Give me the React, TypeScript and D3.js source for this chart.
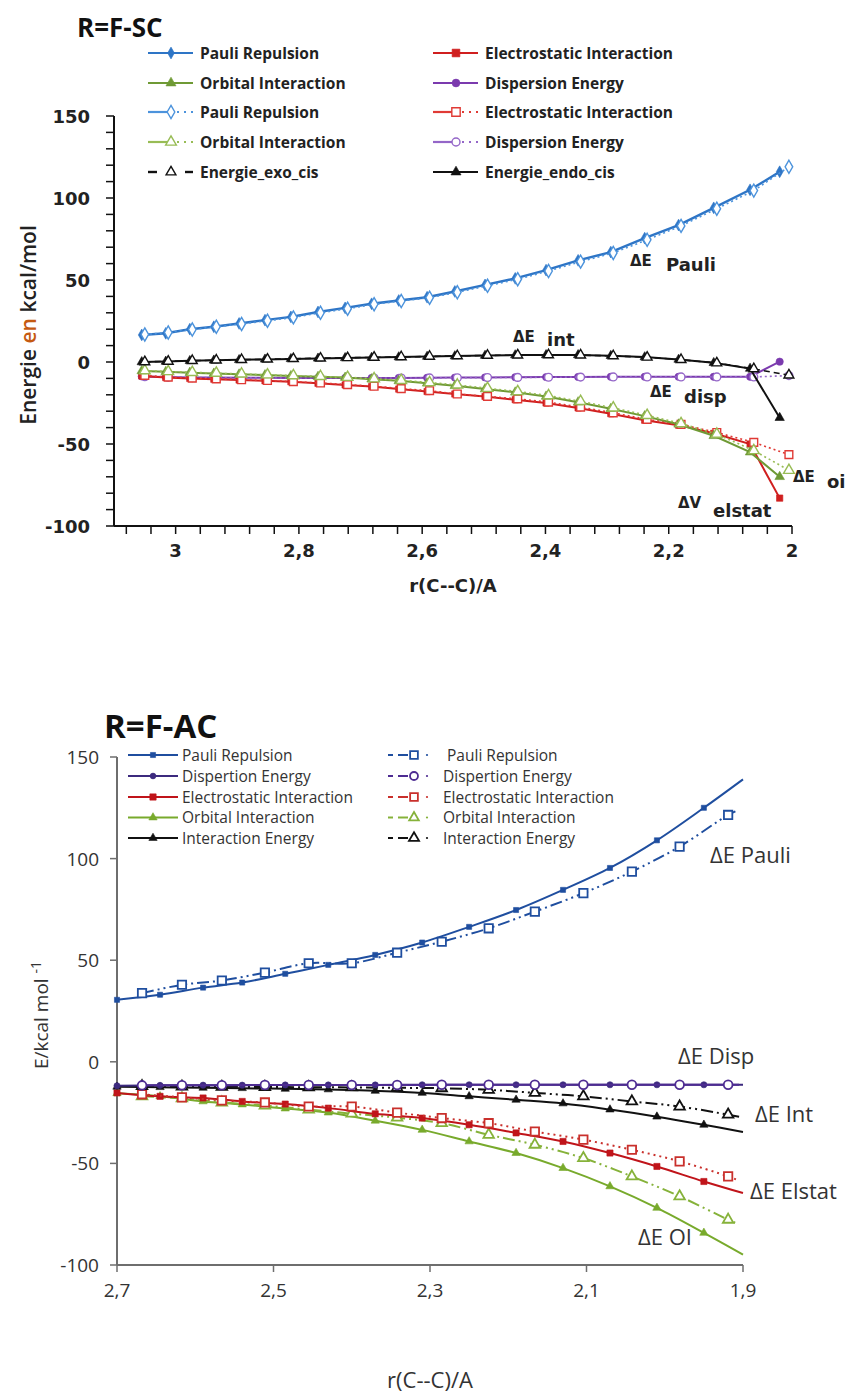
import React from "react";
import * as d3 from "d3";

// ---------------- Top chart (R=F-SC) data ----------------
const topXEndo = [3.055, 3.016, 2.977, 2.938, 2.897, 2.855, 2.813, 2.769, 2.725, 2.682, 2.638, 2.592, 2.547, 2.498, 2.449, 2.399, 2.347, 2.294, 2.239, 2.184, 2.127, 2.068, 2.02];
const topXExo = [3.05, 3.012, 2.973, 2.934, 2.893, 2.851, 2.809, 2.765, 2.721, 2.678, 2.634, 2.588, 2.543, 2.494, 2.445, 2.395, 2.343, 2.29, 2.235, 2.18, 2.122, 2.062, 2.005];
const pauliEndo = [16.5, 17.5, 20, 21.5, 23.5, 25.5, 27.5, 30.5, 33, 35.5, 37.5, 39.5, 43, 47, 51, 56, 62, 67, 75.5, 83.5, 94, 105, 116];
const pauliExo = [16.8, 18, 19.8, 21.5, 23.2, 25.2, 27.2, 30, 32.5, 35.2, 37.2, 39.2, 42.5, 46.5, 50.5, 55.5, 61.2, 66.5, 74.5, 83, 93.5, 104.5, 119];
const elstatEndo = [-8.5, -9.5, -10, -10.5, -11, -11.5, -12, -13, -14, -15, -16.5, -18, -19.5, -21, -23, -25, -28, -31.5, -35.5, -38.5, -43.5, -50, -83];
const elstatExo = [-8.2, -9.2, -9.8, -10.3, -10.8, -11.3, -12, -12.8, -13.8, -14.8, -16.2, -17.5, -19.5, -21, -22.5, -24.5, -27.5, -31, -35, -38, -43, -49, -56.5];
const orbEndo = [-5.5, -6, -6.5, -7, -7.5, -8, -8.5, -9, -9.5, -10.5, -11.5, -13, -14.5, -16.5, -18.5, -21, -24.5, -28.5, -33, -38, -45, -55, -70];
const orbExo = [-5.3, -5.8, -6.3, -6.8, -7.3, -7.8, -8.3, -8.8, -9.3, -10.2, -11.2, -12.5, -14, -16, -18, -20.5, -24, -28, -32.5, -37.5, -44, -54, -66];
const dispEndo = [-8.8, -9.2, -9.4, -9.5, -9.6, -9.6, -9.7, -9.7, -9.7, -9.7, -9.7, -9.6, -9.5, -9.4, -9.3, -9.2, -9.1, -9, -9, -9, -9, -9, 0.2];
const dispExo = [-9, -9.3, -9.5, -9.6, -9.7, -9.7, -9.8, -9.8, -9.8, -9.8, -9.8, -9.7, -9.6, -9.5, -9.4, -9.3, -9.2, -9.1, -9.1, -9.1, -9.1, -9.1, -8.3];
const energieEndo = [0, 0.3, 0.7, 1, 1.3, 1.6, 1.9, 2.2, 2.5, 2.7, 3, 3.3, 3.6, 3.9, 4.2, 4.3, 4.3, 3.8, 3, 1.5, -0.5, -4, -34];
const energieExo = [0.1, 0.4, 0.8, 1.1, 1.4, 1.7, 2, 2.3, 2.6, 2.8, 3.1, 3.4, 3.7, 4, 4.2, 4.3, 4.2, 3.7, 2.9, 1.4, -0.6, -4.2, -8];
const topXTicks = [3, 2.8, 2.6, 2.4, 2.2, 2];
const topYTicks = [150, 100, 50, 0, -50, -100];

// ---------------- Bottom chart (R=F-AC) data ----------------
const botXSolid = [2.7, 2.645, 2.59, 2.54, 2.485, 2.43, 2.37, 2.31, 2.25, 2.19, 2.13, 2.07, 2.01, 1.95, 1.9];
const botXDash = [2.668, 2.617, 2.566, 2.511, 2.455, 2.4, 2.342, 2.285, 2.225, 2.166, 2.104, 2.042, 1.981, 1.919, 1.905];
const bPauli = [30.5, 33, 36.5, 39, 43.3, 47.7, 52.6, 58.7, 66.4, 74.7, 84.6, 95.4, 109, 125, 139];
const bPauliD = [33.8, 37.9, 40, 43.9, 48.5, 48.5, 53.7, 59.1, 65.7, 73.9, 83, 93.6, 105.9, 121.5, 124];
const bDisp = [-11.8, -11.6, -11.5, -11.5, -11.4, -11.4, -11.4, -11.3, -11.3, -11.3, -11.3, -11.3, -11.3, -11.3, -11.3];
const bDispD = [-11.6, -11.5, -11.5, -11.4, -11.4, -11.4, -11.4, -11.3, -11.3, -11.3, -11.3, -11.3, -11.3, -11.3, -11.3];
const bElstat = [-15.3, -17, -17.8, -19.5, -20.8, -22.8, -25.6, -27.7, -31, -35, -39.2, -44.9, -51.5, -58.9, -64.6];
const bElstatD = [-16, -17.5, -19, -20, -22, -22, -25, -27.7, -30.2, -34.3, -38.3, -43.3, -49, -56.4, -58.5];
const bOrb = [-15.5, -17, -19.5, -21, -23, -25, -29, -33.5, -39.2, -44.9, -52.3, -61.3, -71.9, -84.2, -94.9];
const bOrbD = [-17, -18, -20, -21.5, -23.5, -25.5, -27.5, -30.2, -35.9, -40.8, -47.4, -56.4, -66.2, -77.7, -80];
const bInt = [-12.3, -12.5, -12.8, -13, -13.3, -13.6, -14.3, -15.3, -17, -18.7, -20.5, -23.5, -27, -31, -34.5];
const bIntD = [-12, -12.2, -12.3, -12.4, -12.5, -12.6, -12.8, -13, -13.8, -15.3, -17, -19.5, -22, -26, -27];
const botXTicks = [2.7, 2.5, 2.3, 2.1, 1.9];
const botYTicks = [150, 100, 50, 0, -50, -100];

const topLegendLeft = ["Pauli Repulsion", "Orbital Interaction", "Pauli Repulsion", "Orbital Interaction", "Energie_exo_cis"];
const topLegendRight = ["Electrostatic Interaction", "Dispersion Energy", "Electrostatic Interaction", "Dispersion Energy", "Energie_endo_cis"];
const botLegendLeft = ["Pauli Repulsion", "Dispertion Energy", "Electrostatic Interaction", "Orbital Interaction", "Interaction Energy"];
const botLegendRight = [" Pauli Repulsion", "Dispertion Energy", "Electrostatic Interaction", "Orbital Interaction", "Interaction Energy"];

const symMap: any = {
  diamond: d3.symbolDiamond,
  square: d3.symbolSquare,
  triangle: d3.symbolTriangle,
  circle: d3.symbolCircle,
};

const comma = (v: number) => String(v).replace(".", ",");

function Marker({ x, y, sym, size, color, open, sw = 1.4 }: any) {
  const d = d3.symbol(symMap[sym], size)() as string;
  return (
    <path
      d={d}
      transform={`translate(${x},${y})`}
      fill={open ? "#fff" : color}
      stroke={color}
      strokeWidth={open ? sw : 0.6}
    />
  );
}

// scales
const tx = d3.scaleLinear().domain([3.1, 2.0]).range([114, 792]);
const ty = d3.scaleLinear().domain([-100, 150]).range([526, 116]);
const bx = d3.scaleLinear().domain([2.7, 1.9]).range([117, 743]);
const by = d3.scaleLinear().domain([-100, 150]).range([1265, 757]);

const C = {
  tPauli: "#2E75C6",
  tPauliD: "#4C93DC",
  tEl: "#D01F1F",
  tElD: "#E03A35",
  tOrb: "#6F9A35",
  tOrbD: "#98BC55",
  tDisp: "#7B3AAE",
  tDispD: "#9466C8",
  bPauli: "#1F4E9F",
  bDisp: "#3C2A7E",
  bDispD: "#4E2C92",
  bEl: "#C0141A",
  bElD: "#C9302C",
  bOrb: "#78AA2C",
  bOrbD: "#86B23A",
};

const topSeries = [
  { xs: topXEndo, ys: dispEndo, color: C.tDisp, sym: "circle", size: 42, open: false, dash: null, w: 2 },
  { xs: topXExo, ys: dispExo, color: C.tDispD, sym: "circle", size: 48, open: true, dash: "2 3", w: 1.6 },
  { xs: topXEndo, ys: elstatEndo, color: C.tEl, sym: "square", size: 40, open: false, dash: null, w: 2 },
  { xs: topXExo, ys: elstatExo, color: C.tElD, sym: "square", size: 60, open: true, dash: "2 3", w: 1.6 },
  { xs: topXEndo, ys: orbEndo, color: C.tOrb, sym: "triangle", size: 40, open: false, dash: null, w: 2 },
  { xs: topXExo, ys: orbExo, color: C.tOrbD, sym: "triangle", size: 50, open: true, dash: "2 3", w: 1.6 },
  { xs: topXEndo, ys: energieEndo, color: "#111", sym: "triangle", size: 38, open: false, dash: null, w: 2 },
  { xs: topXExo, ys: energieExo, color: "#111", sym: "triangle", size: 42, open: true, dash: "6 4", w: 1.6 },
  { xs: topXEndo, ys: pauliEndo, color: C.tPauli, sym: "diamond", size: 40, open: false, dash: null, w: 2.4 },
  { xs: topXExo, ys: pauliExo, color: C.tPauliD, sym: "diamond", size: 50, open: true, dash: "2 3", w: 1.6 },
];

const botSeries = [
  { xs: botXSolid, ys: bPauli, color: C.bPauli, sym: "square", size: 26, open: false, dash: null },
  { xs: botXDash, ys: bPauliD, color: C.bPauli, sym: "square", size: 70, open: true, dash: "12 4 2 4 2 4" },
  { xs: botXSolid, ys: bOrb, color: C.bOrb, sym: "triangle", size: 30, open: false, dash: null },
  { xs: botXDash, ys: bOrbD, color: C.bOrbD, sym: "triangle", size: 48, open: true, dash: "12 4 2 4 2 4" },
  { xs: botXSolid, ys: bElstat, color: C.bEl, sym: "square", size: 38, open: false, dash: null },
  { xs: botXDash, ys: bElstatD, color: C.bElD, sym: "square", size: 70, open: true, dash: "2 4" },
  { xs: botXSolid, ys: bInt, color: "#111", sym: "triangle", size: 30, open: false, dash: null },
  { xs: botXDash, ys: bIntD, color: "#111", sym: "triangle", size: 48, open: true, dash: "12 4 2 4 2 4" },
  { xs: botXSolid, ys: bDisp, color: C.bDisp, sym: "circle", size: 30, open: false, dash: null },
  { xs: botXDash, ys: bDispD, color: C.bDispD, sym: "circle", size: 60, open: true, dash: null },
];

const topLine = d3.line<[number, number]>().x((d) => tx(d[0])).y((d) => ty(d[1])).curve(d3.curveLinear);
const botLine = d3.line<[number, number]>().x((d) => bx(d[0])).y((d) => by(d[1])).curve(d3.curveCatmullRom.alpha(0.5));

const zip = (xs: number[], ys: number[]) => xs.map((x, i) => [x, ys[i]] as [number, number]);

function TopChart() {
  const minorX = d3.range(0, 28).map((i) => 3.08 - i * 0.04);
  const minorY = d3.range(-100, 151, 10);
  const legendStyles = [
    [
      { color: C.tPauli, sym: "diamond", open: false, kind: "solid", size: 40 },
      { color: C.tOrb, sym: "triangle", open: false, kind: "solid", size: 44 },
      { color: C.tPauliD, sym: "diamond", open: true, kind: "dot", size: 50 },
      { color: C.tOrbD, sym: "triangle", open: true, kind: "dot", size: 50 },
      { color: "#111", sym: "triangle", open: true, kind: "dash", size: 42 },
    ],
    [
      { color: C.tEl, sym: "square", open: false, kind: "solid", size: 60 },
      { color: C.tDisp, sym: "circle", open: false, kind: "solid", size: 48 },
      { color: C.tElD, sym: "square", open: true, kind: "dot", size: 70 },
      { color: C.tDispD, sym: "circle", open: true, kind: "dot", size: 50 },
      { color: "#111", sym: "triangle", open: false, kind: "solid", size: 44 },
    ],
  ];
  const legendRows = [53, 83, 112, 142, 172];
  const colX = [148, 433];
  const labels = [topLegendLeft, topLegendRight];
  return (
    <g>
      <text x={77} y={37} fontFamily="'Open Sans', sans-serif" fontWeight={700} fontSize={26} fill="#111">
        R=F-SC
      </text>
      {labels.map((col, ci) =>
        col.map((lab, ri) => {
          const st: any = legendStyles[ci][ri];
          const x0 = colX[ci];
          const y = legendRows[ri];
          const mx = x0 + 23;
          let lines: any = null;
          if (st.kind === "solid") {
            lines = <line x1={x0} x2={x0 + 45} y1={y} y2={y} stroke={st.color} strokeWidth={2.2} />;
          } else if (st.kind === "dot") {
            lines = (
              <g>
                <line x1={x0} x2={mx - 3} y1={y} y2={y} stroke={st.color} strokeWidth={2.2} />
                <line x1={mx + 6} x2={x0 + 47} y1={y} y2={y} stroke={st.color} strokeWidth={2} strokeDasharray="2 5" />
              </g>
            );
          } else {
            lines = (
              <g>
                <line x1={x0} x2={x0 + 9} y1={y} y2={y} stroke={st.color} strokeWidth={2.4} />
                <line x1={x0 + 37} x2={x0 + 45} y1={y} y2={y} stroke={st.color} strokeWidth={2.4} />
              </g>
            );
          }
          return (
            <g key={`${ci}-${ri}`}>
              {lines}
              <Marker x={mx} y={y} sym={st.sym} size={st.size} color={st.color} open={st.open} />
              <text
                x={x0 + 52}
                y={y + 5.5}
                fontFamily="'Open Sans', sans-serif"
                fontWeight={700}
                fontSize={15.5}
                fill="#222"
              >
                {lab}
              </text>
            </g>
          );
        })
      )}
      <line x1={114} x2={114} y1={ty(150)} y2={ty(-100)} stroke="#111" strokeWidth={2} />
      <line x1={114} x2={tx(2)} y1={ty(-100)} y2={ty(-100)} stroke="#111" strokeWidth={2} />
      {minorY.map((v) => (
        <line key={"ty" + v} x1={106} x2={114} y1={ty(v)} y2={ty(v)} stroke="#111" strokeWidth={1.5} />
      ))}
      {minorX.map((v, i) => (
        <line key={"tx" + i} x1={tx(v)} x2={tx(v)} y1={ty(-100)} y2={ty(-100) + 8} stroke="#111" strokeWidth={1.5} />
      ))}
      {topYTicks.map((v) => (
        <text
          key={"tyl" + v}
          x={90}
          y={ty(v) + 6.5}
          textAnchor="end"
          fontFamily="'DejaVu Sans', sans-serif"
          fontWeight={700}
          fontSize={18}
          fill="#222"
        >
          {v}
        </text>
      ))}
      {topXTicks.map((v) => (
        <text
          key={"txl" + v}
          x={tx(v)}
          y={557}
          textAnchor="middle"
          fontFamily="'DejaVu Sans', sans-serif"
          fontWeight={700}
          fontSize={18}
          fill="#222"
        >
          {comma(v)}
        </text>
      ))}
      <text
        x={(114 + 792) / 2}
        y={592}
        textAnchor="middle"
        fontFamily="'DejaVu Sans', sans-serif"
        fontWeight={700}
        fontSize={18}
        fill="#222"
      >
        r(C--C)/A
      </text>
      <text
        transform="translate(36,325) rotate(-90)"
        textAnchor="middle"
        fontFamily="'Open Sans', sans-serif"
        fontWeight={600}
        fontSize={21}
        fill="#222"
      >
        Energie <tspan fill="#C55A11">en</tspan> kcal/mol
      </text>
      {topSeries.map((s: any, i) => {
        const pts = zip(s.xs, s.ys);
        return (
          <g key={"ts" + i}>
            <path d={topLine(pts) as string} fill="none" stroke={s.color} strokeWidth={s.w} strokeDasharray={s.dash || undefined} />
            {pts.map((p, j) => (
              <Marker key={j} x={tx(p[0])} y={ty(p[1])} sym={s.sym} size={s.size} color={s.color} open={s.open} />
            ))}
          </g>
        );
      })}
      <g fontFamily="'DejaVu Sans', sans-serif" fontWeight={700} fill="#222">
        <text x={630} y={266} fontSize={15}>ΔE</text>
        <text x={666} y={271} fontSize={18}>Pauli</text>
        <text x={513} y={342} fontSize={15}>ΔE</text>
        <text x={547} y={346} fontSize={18}>int</text>
        <text x={650} y={397} fontSize={15}>ΔE</text>
        <text x={684} y={403} fontSize={18}>disp</text>
        <text x={793} y={482} fontSize={15}>ΔE</text>
        <text x={827} y={488} fontSize={18}>oi</text>
        <text x={678} y={508} fontSize={15}>ΔV</text>
        <text x={713} y={517} fontSize={18}>elstat</text>
      </g>
    </g>
  );
}

function BottomChart() {
  const rows = [755, 776, 797, 817.5, 838];
  const leftStyles = [
    { color: C.bPauli, sym: "square", size: 26 },
    { color: C.bDisp, sym: "circle", size: 26 },
    { color: C.bEl, sym: "square", size: 40 },
    { color: C.bOrb, sym: "triangle", size: 30 },
    { color: "#111", sym: "triangle", size: 30 },
  ];
  const rightStyles = [
    { color: C.bPauli, sym: "square", size: 60 },
    { color: C.bDispD, sym: "circle", size: 50 },
    { color: C.bElD, sym: "square", size: 60 },
    { color: C.bOrbD, sym: "triangle", size: 40 },
    { color: "#111", sym: "triangle", size: 44 },
  ];
  const axisColor = "#6E6E6E";
  return (
    <g>
      <text x={104} y={738} fontFamily="'Open Sans', sans-serif" fontWeight={700} fontSize={33} fill="#111">
        R=F-AC
      </text>
      <line x1={117} x2={117} y1={by(150)} y2={by(-100)} stroke={axisColor} strokeWidth={2} />
      <line x1={117} x2={743} y1={by(-100)} y2={by(-100)} stroke={axisColor} strokeWidth={2} />
      {botYTicks.map((v) => (
        <g key={"by" + v}>
          <line x1={110} x2={117} y1={by(v)} y2={by(v)} stroke={axisColor} strokeWidth={1.5} />
          <text
            x={99}
            y={by(v) + 7}
            textAnchor="end"
            fontFamily="'Open Sans', sans-serif"
            fontSize={19}
            fill="#333"
          >
            {v}
          </text>
        </g>
      ))}
      {botXTicks.map((v) => (
        <g key={"bx" + v}>
          <line x1={bx(v)} x2={bx(v)} y1={by(-100)} y2={by(-100) + 7} stroke={axisColor} strokeWidth={1.5} />
          <text
            x={bx(v)}
            y={1297}
            textAnchor="middle"
            fontFamily="'Open Sans', sans-serif"
            fontSize={19}
            fill="#333"
          >
            {comma(v)}
          </text>
        </g>
      ))}
      <text x={430} y={1388} textAnchor="middle" fontFamily="'Open Sans', sans-serif" fontSize={22} fill="#333">
        r(C--C)/A
      </text>
      <text
        transform="translate(48,1015) rotate(-90)"
        textAnchor="middle"
        fontFamily="'Open Sans', sans-serif"
        fontSize={19}
        fill="#333"
      >
        E/kcal mol <tspan dy={-7} fontSize={14}>-1</tspan>
      </text>
      {botLegendLeft.map((lab, i) => {
        const st: any = leftStyles[i];
        const y = rows[i];
        return (
          <g key={"bl" + i}>
            <line x1={128} x2={178} y1={y} y2={y} stroke={st.color} strokeWidth={2} />
            <Marker x={153} y={y} sym={st.sym} size={st.size} color={st.color} open={false} />
            <text x={182} y={y + 5.5} fontFamily="'Open Sans', sans-serif" fontSize={15.5} fill="#333">
              {lab}
            </text>
          </g>
        );
      })}
      {botLegendRight.map((lab, i) => {
        const st: any = rightStyles[i];
        const y = rows[i];
        return (
          <g key={"br" + i}>
            <line x1={388} x2={393} y1={y} y2={y} stroke={st.color} strokeWidth={2} />
            <line x1={398} x2={408} y1={y} y2={y} stroke={st.color} strokeWidth={2} />
            <Marker x={414} y={y} sym={st.sym} size={st.size} color={st.color} open={true} sw={1.8} />
            <circle cx={427} cy={y} r={1.1} fill={st.color} />
            <text x={443} y={y + 5.5} fontFamily="'Open Sans', sans-serif" fontSize={15.5} fill="#333" xmlSpace="preserve">
              {lab}
            </text>
          </g>
        );
      })}
      {botSeries.map((s: any, i) => {
        const pts = zip(s.xs, s.ys);
        return (
          <g key={"bs" + i}>
            <path d={botLine(pts) as string} fill="none" stroke={s.color} strokeWidth={2} strokeDasharray={s.dash || undefined} />
            {pts.slice(0, pts.length - 1).map((p, j) => (
              <Marker key={j} x={bx(p[0])} y={by(p[1])} sym={s.sym} size={s.size} color={s.color} open={s.open} sw={1.8} />
            ))}
          </g>
        );
      })}
      <g fontFamily="'Open Sans', sans-serif" fontSize={22} fill="#333">
        <text x={710} y={863}>ΔE Pauli</text>
        <text x={678} y={1064}>ΔE Disp</text>
        <text x={755} y={1122}>ΔE Int</text>
        <text x={750} y={1199}>ΔE Elstat</text>
        <text x={638} y={1245}>ΔE OI</text>
      </g>
    </g>
  );
}

export default function App() {
  return (
    <svg
      width={851}
      height={1396}
      viewBox="0 0 851 1396"
      style={{ position: "absolute", left: 0, top: 0, background: "#fff" }}
    >
      <rect width={851} height={1396} fill="#fff" />
      <TopChart />
      <BottomChart />
    </svg>
  );
}
